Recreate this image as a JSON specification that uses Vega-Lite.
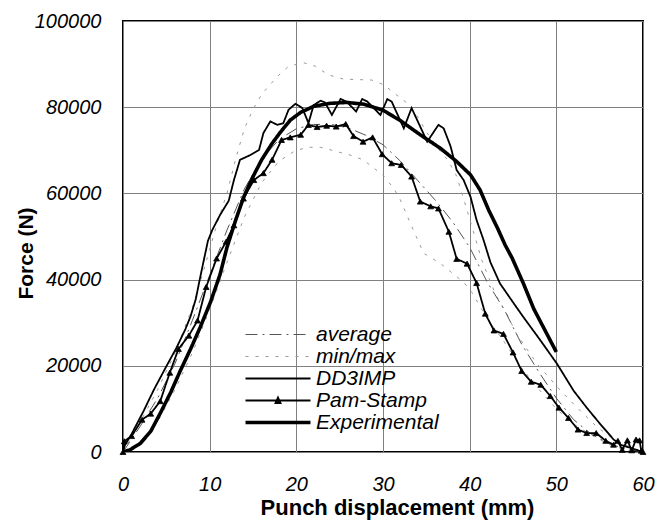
{
  "$schema": "https://vega.github.io/schema/vega-lite/v6.json",
  "autosize": "none",
  "width": 520,
  "height": 431,
  "padding": {"left": 123, "top": 21, "right": 22, "bottom": 68},
  "background": "white",
  "config": {
    "view": {"stroke": "black", "strokeWidth": 2},
    "font": "Liberation Sans"
  },
  "data": {"values": [
    {"x":0,"y":0,"series":"min/max","curve":"max"},{"x":2,"y":7000,"series":"min/max","curve":"max"},{"x":4,"y":14500,"series":"min/max","curve":"max"},{"x":6,"y":23000,"series":"min/max","curve":"max"},{"x":8,"y":33500,"series":"min/max","curve":"max"},{"x":9,"y":40000,"series":"min/max","curve":"max"},{"x":10,"y":47000,"series":"min/max","curve":"max"},{"x":11,"y":54000,"series":"min/max","curve":"max"},{"x":12,"y":60000,"series":"min/max","curve":"max"},{"x":13,"y":68000,"series":"min/max","curve":"max"},{"x":14,"y":75000,"series":"min/max","curve":"max"},{"x":15,"y":79500,"series":"min/max","curve":"max"},{"x":16,"y":83000,"series":"min/max","curve":"max"},{"x":17,"y":85300,"series":"min/max","curve":"max"},{"x":18,"y":87500,"series":"min/max","curve":"max"},{"x":19,"y":89300,"series":"min/max","curve":"max"},{"x":20.7,"y":90400,"series":"min/max","curve":"max"},{"x":22.2,"y":89500,"series":"min/max","curve":"max"},{"x":23.7,"y":87500,"series":"min/max","curve":"max"},{"x":25.5,"y":86500,"series":"min/max","curve":"max"},{"x":28.7,"y":86300,"series":"min/max","curve":"max"},{"x":30.1,"y":85200,"series":"min/max","curve":"max"},{"x":31.4,"y":83100,"series":"min/max","curve":"max"},{"x":32.8,"y":80900,"series":"min/max","curve":"max"},{"x":34,"y":77800,"series":"min/max","curve":"max"},{"x":35,"y":74300,"series":"min/max","curve":"max"},{"x":36.5,"y":70000,"series":"min/max","curve":"max"},{"x":37.5,"y":67700,"series":"min/max","curve":"max"},{"x":38.5,"y":64000,"series":"min/max","curve":"max"},{"x":39.7,"y":56100,"series":"min/max","curve":"max"},{"x":41.4,"y":44500,"series":"min/max","curve":"max"},{"x":43,"y":36500,"series":"min/max","curve":"max"},{"x":44.3,"y":32000,"series":"min/max","curve":"max"},{"x":45.4,"y":27400,"series":"min/max","curve":"max"},{"x":47.8,"y":20400,"series":"min/max","curve":"max"},{"x":50.5,"y":14200,"series":"min/max","curve":"max"},{"x":52.8,"y":9500,"series":"min/max","curve":"max"},{"x":54.8,"y":5600,"series":"min/max","curve":"max"},{"x":57,"y":2500,"series":"min/max","curve":"max"},{"x":59.3,"y":500,"series":"min/max","curve":"max"},{"x":60,"y":0,"series":"min/max","curve":"max"},
    {"x":0,"y":0,"series":"min/max","curve":"min"},{"x":2,"y":2000,"series":"min/max","curve":"min"},{"x":4,"y":7000,"series":"min/max","curve":"min"},{"x":6,"y":14500,"series":"min/max","curve":"min"},{"x":8,"y":23000,"series":"min/max","curve":"min"},{"x":10,"y":33000,"series":"min/max","curve":"min"},{"x":12,"y":44000,"series":"min/max","curve":"min"},{"x":14,"y":54500,"series":"min/max","curve":"min"},{"x":16,"y":62500,"series":"min/max","curve":"min"},{"x":18,"y":67500,"series":"min/max","curve":"min"},{"x":19.7,"y":69700,"series":"min/max","curve":"min"},{"x":21.2,"y":70700,"series":"min/max","curve":"min"},{"x":22.8,"y":70700,"series":"min/max","curve":"min"},{"x":24.7,"y":69700,"series":"min/max","curve":"min"},{"x":26.2,"y":68900,"series":"min/max","curve":"min"},{"x":27.7,"y":67800,"series":"min/max","curve":"min"},{"x":29,"y":65800,"series":"min/max","curve":"min"},{"x":30.1,"y":64000,"series":"min/max","curve":"min"},{"x":31.3,"y":61000,"series":"min/max","curve":"min"},{"x":32,"y":58500,"series":"min/max","curve":"min"},{"x":33.5,"y":51500,"series":"min/max","curve":"min"},{"x":34.7,"y":46100,"series":"min/max","curve":"min"},{"x":36.6,"y":43800,"series":"min/max","curve":"min"},{"x":38,"y":41500,"series":"min/max","curve":"min"},{"x":39.3,"y":39400,"series":"min/max","curve":"min"},{"x":40.3,"y":36900,"series":"min/max","curve":"min"},{"x":42,"y":31000,"series":"min/max","curve":"min"},{"x":44,"y":25500,"series":"min/max","curve":"min"},{"x":46,"y":19500,"series":"min/max","curve":"min"},{"x":48,"y":14500,"series":"min/max","curve":"min"},{"x":50,"y":10000,"series":"min/max","curve":"min"},{"x":52,"y":6500,"series":"min/max","curve":"min"},{"x":54,"y":4000,"series":"min/max","curve":"min"},{"x":56,"y":1800,"series":"min/max","curve":"min"},{"x":58,"y":500,"series":"min/max","curve":"min"},{"x":60,"y":0,"series":"min/max","curve":"min"},
    {"x":0,"y":0,"series":"average","curve":"average"},{"x":2,"y":6000,"series":"average","curve":"average"},{"x":4,"y":12500,"series":"average","curve":"average"},{"x":6,"y":20500,"series":"average","curve":"average"},{"x":8,"y":30500,"series":"average","curve":"average"},{"x":10,"y":41000,"series":"average","curve":"average"},{"x":12,"y":51500,"series":"average","curve":"average"},{"x":14,"y":61000,"series":"average","curve":"average"},{"x":16,"y":68000,"series":"average","curve":"average"},{"x":18,"y":72500,"series":"average","curve":"average"},{"x":20,"y":75000,"series":"average","curve":"average"},{"x":22,"y":76000,"series":"average","curve":"average"},{"x":24,"y":76000,"series":"average","curve":"average"},{"x":26,"y":75200,"series":"average","curve":"average"},{"x":28,"y":73500,"series":"average","curve":"average"},{"x":30,"y":71300,"series":"average","curve":"average"},{"x":32,"y":67500,"series":"average","curve":"average"},{"x":34,"y":63000,"series":"average","curve":"average"},{"x":36,"y":58500,"series":"average","curve":"average"},{"x":38,"y":53500,"series":"average","curve":"average"},{"x":40,"y":47500,"series":"average","curve":"average"},{"x":42,"y":39500,"series":"average","curve":"average"},{"x":44,"y":33000,"series":"average","curve":"average"},{"x":46,"y":25000,"series":"average","curve":"average"},{"x":48,"y":18500,"series":"average","curve":"average"},{"x":50,"y":12500,"series":"average","curve":"average"},{"x":52,"y":7500,"series":"average","curve":"average"},{"x":54,"y":4200,"series":"average","curve":"average"},{"x":56,"y":2000,"series":"average","curve":"average"},{"x":58,"y":700,"series":"average","curve":"average"},{"x":60,"y":0,"series":"average","curve":"average"},
    {"x":0,"y":0,"series":"DD3IMP","curve":"DD3IMP"},{"x":0.2,"y":1500,"series":"DD3IMP","curve":"DD3IMP"},{"x":1,"y":4200,"series":"DD3IMP","curve":"DD3IMP"},{"x":2.4,"y":9600,"series":"DD3IMP","curve":"DD3IMP"},{"x":3.5,"y":14200,"series":"DD3IMP","curve":"DD3IMP"},{"x":4.9,"y":19500,"series":"DD3IMP","curve":"DD3IMP"},{"x":6.2,"y":24300,"series":"DD3IMP","curve":"DD3IMP"},{"x":7.2,"y":28500,"series":"DD3IMP","curve":"DD3IMP"},{"x":7.8,"y":31500,"series":"DD3IMP","curve":"DD3IMP"},{"x":8.4,"y":35500,"series":"DD3IMP","curve":"DD3IMP"},{"x":8.85,"y":40000,"series":"DD3IMP","curve":"DD3IMP"},{"x":9.8,"y":49000,"series":"DD3IMP","curve":"DD3IMP"},{"x":10.3,"y":51500,"series":"DD3IMP","curve":"DD3IMP"},{"x":11.2,"y":55000,"series":"DD3IMP","curve":"DD3IMP"},{"x":12.2,"y":58300,"series":"DD3IMP","curve":"DD3IMP"},{"x":12.8,"y":63100,"series":"DD3IMP","curve":"DD3IMP"},{"x":13.5,"y":67800,"series":"DD3IMP","curve":"DD3IMP"},{"x":14.7,"y":68900,"series":"DD3IMP","curve":"DD3IMP"},{"x":15.7,"y":70100,"series":"DD3IMP","curve":"DD3IMP"},{"x":16.2,"y":74000,"series":"DD3IMP","curve":"DD3IMP"},{"x":17,"y":76700,"series":"DD3IMP","curve":"DD3IMP"},{"x":17.8,"y":75900,"series":"DD3IMP","curve":"DD3IMP"},{"x":18.5,"y":76300,"series":"DD3IMP","curve":"DD3IMP"},{"x":19.1,"y":79400,"series":"DD3IMP","curve":"DD3IMP"},{"x":19.9,"y":80800,"series":"DD3IMP","curve":"DD3IMP"},{"x":20.7,"y":79800,"series":"DD3IMP","curve":"DD3IMP"},{"x":21.4,"y":76300,"series":"DD3IMP","curve":"DD3IMP"},{"x":22,"y":80500,"series":"DD3IMP","curve":"DD3IMP"},{"x":22.8,"y":81500,"series":"DD3IMP","curve":"DD3IMP"},{"x":23.3,"y":81100,"series":"DD3IMP","curve":"DD3IMP"},{"x":24.1,"y":78200,"series":"DD3IMP","curve":"DD3IMP"},{"x":25.1,"y":81900,"series":"DD3IMP","curve":"DD3IMP"},{"x":25.8,"y":81300,"series":"DD3IMP","curve":"DD3IMP"},{"x":26.9,"y":79000,"series":"DD3IMP","curve":"DD3IMP"},{"x":27.6,"y":81900,"series":"DD3IMP","curve":"DD3IMP"},{"x":28.2,"y":81300,"series":"DD3IMP","curve":"DD3IMP"},{"x":29.7,"y":78200,"series":"DD3IMP","curve":"DD3IMP"},{"x":30.5,"y":81900,"series":"DD3IMP","curve":"DD3IMP"},{"x":31,"y":81300,"series":"DD3IMP","curve":"DD3IMP"},{"x":32.4,"y":75100,"series":"DD3IMP","curve":"DD3IMP"},{"x":33.3,"y":79800,"series":"DD3IMP","curve":"DD3IMP"},{"x":35.1,"y":72000,"series":"DD3IMP","curve":"DD3IMP"},{"x":36.4,"y":75900,"series":"DD3IMP","curve":"DD3IMP"},{"x":37,"y":75100,"series":"DD3IMP","curve":"DD3IMP"},{"x":37.8,"y":70900,"series":"DD3IMP","curve":"DD3IMP"},{"x":38.5,"y":65400,"series":"DD3IMP","curve":"DD3IMP"},{"x":39.3,"y":63100,"series":"DD3IMP","curve":"DD3IMP"},{"x":40.1,"y":59200,"series":"DD3IMP","curve":"DD3IMP"},{"x":40.8,"y":53800,"series":"DD3IMP","curve":"DD3IMP"},{"x":41.6,"y":49200,"series":"DD3IMP","curve":"DD3IMP"},{"x":42.4,"y":44000,"series":"DD3IMP","curve":"DD3IMP"},{"x":43.5,"y":39100,"series":"DD3IMP","curve":"DD3IMP"},{"x":44.7,"y":35600,"series":"DD3IMP","curve":"DD3IMP"},{"x":46.2,"y":31300,"series":"DD3IMP","curve":"DD3IMP"},{"x":48.2,"y":25800,"series":"DD3IMP","curve":"DD3IMP"},{"x":50.1,"y":20400,"series":"DD3IMP","curve":"DD3IMP"},{"x":52,"y":14200,"series":"DD3IMP","curve":"DD3IMP"},{"x":53.5,"y":10300,"series":"DD3IMP","curve":"DD3IMP"},{"x":55.1,"y":6400,"series":"DD3IMP","curve":"DD3IMP"},{"x":55.8,"y":4800,"series":"DD3IMP","curve":"DD3IMP"},{"x":56.6,"y":2900,"series":"DD3IMP","curve":"DD3IMP"},{"x":57.4,"y":1700,"series":"DD3IMP","curve":"DD3IMP"},{"x":59.7,"y":200,"series":"DD3IMP","curve":"DD3IMP"},
    {"x":0,"y":0,"series":"Pam-Stamp","curve":"Pam-Stamp"},{"x":0.15,"y":2500,"series":"Pam-Stamp","curve":"Pam-Stamp"},{"x":1,"y":3700,"series":"Pam-Stamp","curve":"Pam-Stamp"},{"x":2.2,"y":7500,"series":"Pam-Stamp","curve":"Pam-Stamp"},{"x":3.2,"y":8900,"series":"Pam-Stamp","curve":"Pam-Stamp"},{"x":4.3,"y":11800,"series":"Pam-Stamp","curve":"Pam-Stamp"},{"x":5.4,"y":18400,"series":"Pam-Stamp","curve":"Pam-Stamp"},{"x":6.4,"y":23900,"series":"Pam-Stamp","curve":"Pam-Stamp"},{"x":7.6,"y":27000,"series":"Pam-Stamp","curve":"Pam-Stamp"},{"x":8.6,"y":30500,"series":"Pam-Stamp","curve":"Pam-Stamp"},{"x":9.6,"y":38300,"series":"Pam-Stamp","curve":"Pam-Stamp"},{"x":10.8,"y":44900,"series":"Pam-Stamp","curve":"Pam-Stamp"},{"x":11.9,"y":48800,"series":"Pam-Stamp","curve":"Pam-Stamp"},{"x":12.8,"y":52600,"series":"Pam-Stamp","curve":"Pam-Stamp"},{"x":13.9,"y":58800,"series":"Pam-Stamp","curve":"Pam-Stamp"},{"x":15.1,"y":63100,"series":"Pam-Stamp","curve":"Pam-Stamp"},{"x":16.2,"y":64700,"series":"Pam-Stamp","curve":"Pam-Stamp"},{"x":17.2,"y":67800,"series":"Pam-Stamp","curve":"Pam-Stamp"},{"x":18.3,"y":72400,"series":"Pam-Stamp","curve":"Pam-Stamp"},{"x":19.3,"y":73000,"series":"Pam-Stamp","curve":"Pam-Stamp"},{"x":20.5,"y":73600,"series":"Pam-Stamp","curve":"Pam-Stamp"},{"x":21.4,"y":75900,"series":"Pam-Stamp","curve":"Pam-Stamp"},{"x":22.4,"y":75400,"series":"Pam-Stamp","curve":"Pam-Stamp"},{"x":23.5,"y":75700,"series":"Pam-Stamp","curve":"Pam-Stamp"},{"x":24.6,"y":75500,"series":"Pam-Stamp","curve":"Pam-Stamp"},{"x":25.7,"y":76100,"series":"Pam-Stamp","curve":"Pam-Stamp"},{"x":26.6,"y":73300,"series":"Pam-Stamp","curve":"Pam-Stamp"},{"x":27.7,"y":72000,"series":"Pam-Stamp","curve":"Pam-Stamp"},{"x":28.8,"y":73000,"series":"Pam-Stamp","curve":"Pam-Stamp"},{"x":29.9,"y":69100,"series":"Pam-Stamp","curve":"Pam-Stamp"},{"x":31,"y":67000,"series":"Pam-Stamp","curve":"Pam-Stamp"},{"x":32.1,"y":66600,"series":"Pam-Stamp","curve":"Pam-Stamp"},{"x":33.3,"y":63900,"series":"Pam-Stamp","curve":"Pam-Stamp"},{"x":34.3,"y":58100,"series":"Pam-Stamp","curve":"Pam-Stamp"},{"x":35.5,"y":57000,"series":"Pam-Stamp","curve":"Pam-Stamp"},{"x":36.4,"y":56500,"series":"Pam-Stamp","curve":"Pam-Stamp"},{"x":37.6,"y":51100,"series":"Pam-Stamp","curve":"Pam-Stamp"},{"x":38.5,"y":44800,"series":"Pam-Stamp","curve":"Pam-Stamp"},{"x":39.7,"y":43700,"series":"Pam-Stamp","curve":"Pam-Stamp"},{"x":40.8,"y":39200,"series":"Pam-Stamp","curve":"Pam-Stamp"},{"x":41.8,"y":32100,"series":"Pam-Stamp","curve":"Pam-Stamp"},{"x":42.8,"y":28200,"series":"Pam-Stamp","curve":"Pam-Stamp"},{"x":43.9,"y":27400,"series":"Pam-Stamp","curve":"Pam-Stamp"},{"x":45,"y":23100,"series":"Pam-Stamp","curve":"Pam-Stamp"},{"x":46,"y":18800,"series":"Pam-Stamp","curve":"Pam-Stamp"},{"x":47.1,"y":16300,"series":"Pam-Stamp","curve":"Pam-Stamp"},{"x":48.2,"y":15600,"series":"Pam-Stamp","curve":"Pam-Stamp"},{"x":49.3,"y":13000,"series":"Pam-Stamp","curve":"Pam-Stamp"},{"x":50.3,"y":10300,"series":"Pam-Stamp","curve":"Pam-Stamp"},{"x":51.4,"y":7900,"series":"Pam-Stamp","curve":"Pam-Stamp"},{"x":52.5,"y":5200,"series":"Pam-Stamp","curve":"Pam-Stamp"},{"x":53.5,"y":4400,"series":"Pam-Stamp","curve":"Pam-Stamp"},{"x":54.6,"y":4400,"series":"Pam-Stamp","curve":"Pam-Stamp"},{"x":55.7,"y":2600,"series":"Pam-Stamp","curve":"Pam-Stamp"},{"x":56.6,"y":1700,"series":"Pam-Stamp","curve":"Pam-Stamp"},{"x":57.1,"y":2600,"series":"Pam-Stamp","curve":"Pam-Stamp"},{"x":57.6,"y":500,"series":"Pam-Stamp","curve":"Pam-Stamp"},{"x":58.2,"y":2700,"series":"Pam-Stamp","curve":"Pam-Stamp"},{"x":58.7,"y":400,"series":"Pam-Stamp","curve":"Pam-Stamp"},{"x":59.2,"y":2900,"series":"Pam-Stamp","curve":"Pam-Stamp"},{"x":59.6,"y":2700,"series":"Pam-Stamp","curve":"Pam-Stamp"},{"x":59.8,"y":300,"series":"Pam-Stamp","curve":"Pam-Stamp"},{"x":60,"y":0,"series":"Pam-Stamp","curve":"Pam-Stamp"},
    {"x":0,"y":0,"series":"Experimental","curve":"Experimental"},{"x":0.8,"y":500,"series":"Experimental","curve":"Experimental"},{"x":2,"y":2000,"series":"Experimental","curve":"Experimental"},{"x":3.2,"y":4800,"series":"Experimental","curve":"Experimental"},{"x":4.3,"y":9000,"series":"Experimental","curve":"Experimental"},{"x":5.5,"y":13800,"series":"Experimental","curve":"Experimental"},{"x":6.6,"y":18800,"series":"Experimental","curve":"Experimental"},{"x":7.8,"y":23900,"series":"Experimental","curve":"Experimental"},{"x":8.9,"y":28900,"series":"Experimental","curve":"Experimental"},{"x":10.1,"y":34800,"series":"Experimental","curve":"Experimental"},{"x":11.2,"y":41200,"series":"Experimental","curve":"Experimental"},{"x":12,"y":47500,"series":"Experimental","curve":"Experimental"},{"x":13,"y":53800,"series":"Experimental","curve":"Experimental"},{"x":13.9,"y":59000,"series":"Experimental","curve":"Experimental"},{"x":14.9,"y":63500,"series":"Experimental","curve":"Experimental"},{"x":16,"y":67800,"series":"Experimental","curve":"Experimental"},{"x":17.2,"y":71600,"series":"Experimental","curve":"Experimental"},{"x":18.2,"y":74300,"series":"Experimental","curve":"Experimental"},{"x":19.3,"y":77000,"series":"Experimental","curve":"Experimental"},{"x":20.5,"y":78800,"series":"Experimental","curve":"Experimental"},{"x":22,"y":80200,"series":"Experimental","curve":"Experimental"},{"x":23.9,"y":80900,"series":"Experimental","curve":"Experimental"},{"x":25.8,"y":81100,"series":"Experimental","curve":"Experimental"},{"x":27.8,"y":80700,"series":"Experimental","curve":"Experimental"},{"x":30,"y":79300,"series":"Experimental","curve":"Experimental"},{"x":32,"y":76900,"series":"Experimental","curve":"Experimental"},{"x":34.3,"y":73600,"series":"Experimental","curve":"Experimental"},{"x":36.6,"y":70500,"series":"Experimental","curve":"Experimental"},{"x":38.5,"y":67400,"series":"Experimental","curve":"Experimental"},{"x":40.1,"y":64300,"series":"Experimental","curve":"Experimental"},{"x":41.2,"y":60800,"series":"Experimental","curve":"Experimental"},{"x":42.2,"y":56100,"series":"Experimental","curve":"Experimental"},{"x":43.2,"y":52000,"series":"Experimental","curve":"Experimental"},{"x":44.1,"y":48000,"series":"Experimental","curve":"Experimental"},{"x":44.9,"y":45000,"series":"Experimental","curve":"Experimental"},{"x":46.2,"y":39100,"series":"Experimental","curve":"Experimental"},{"x":47.4,"y":33200,"series":"Experimental","curve":"Experimental"},{"x":48.7,"y":28200,"series":"Experimental","curve":"Experimental"},{"x":50,"y":23200,"series":"Experimental","curve":"Experimental"}
  ]},
  "encoding": {
    "x": {
      "field": "x", "type": "quantitative",
      "scale": {"domain": [0, 60], "nice": false},
      "axis": {
        "title": "Punch displacement (mm)",
        "values": [0, 10, 20, 30, 40, 50, 60],
        "grid": true, "gridColor": "#808080", "gridWidth": 1, "gridOpacity": 1,
        "domain": false, "ticks": false, "labelFlush": false,
        "labelFont": "Liberation Sans", "labelFontStyle": "italic", "labelFontSize": 20, "labelColor": "black",
        "labelPadding": 22,
        "titleFont": "Liberation Sans", "titleFontWeight": "bold", "titleFontSize": 22, "titleColor": "black",
        "titleX": 274, "titleY": 62, "titleBaseline": "alphabetic", "titleAlign": "center"
      }
    },
    "y": {
      "field": "y", "type": "quantitative",
      "scale": {"domain": [0, 100000], "nice": false},
      "axis": {
        "title": "Force (N)",
        "values": [0, 20000, 40000, 60000, 80000, 100000],
        "format": "d",
        "grid": true, "gridColor": "#808080", "gridWidth": 1, "gridOpacity": 1,
        "domain": false, "ticks": false, "labelFlush": false,
        "labelFont": "Liberation Sans", "labelFontStyle": "italic", "labelFontSize": 20, "labelColor": "black",
        "labelPadding": 22,
        "titleFont": "Liberation Sans", "titleFontWeight": "bold", "titleFontSize": 21, "titleColor": "black",
        "titleX": -91, "titleY": 232, "titleAngle": -90, "titleBaseline": "alphabetic", "titleAlign": "center"
      }
    }
  },
  "layer": [
    {
      "mark": {"type": "line", "clip": true},
      "encoding": {
        "detail": {"field": "curve"},
        "color": {
          "field": "series", "type": "nominal",
          "scale": {"domain": ["average", "min/max", "DD3IMP", "Pam-Stamp", "Experimental"], "range": ["#555555", "#999999", "black", "black", "black"]},
          "legend": {
            "title": null,
            "orient": "none", "legendX": 117, "legendY": 303,
            "symbolSize": 100,
            "labelFont": "Liberation Sans", "labelFontStyle": "italic", "labelFontSize": 21, "labelColor": "black",
            "labelOffset": 55, "rowPadding": 0, "padding": 0,
            "encode": {"symbols": {"update": {
              "shape": {"signal": "datum.value === 'Pam-Stamp' ? 'M-1,0H12M5,0.5L5.5,-0.6L6,0.5Z' : 'M-1,0H12'"},
              "fill": {"signal": "datum.value === 'Pam-Stamp' ? 'black' : 'transparent'"}
            }}}
          }
        },
        "strokeDash": {
          "field": "series", "type": "nominal",
          "scale": {"type": "ordinal", "domain": ["average", "min/max", "DD3IMP", "Pam-Stamp", "Experimental"], "range": [[12, 5, 2, 5], [3, 7], [1, 0], [1, 0], [1, 0]]},
          "legend": {"title": null}
        },
        "strokeWidth": {
          "field": "series", "type": "nominal",
          "scale": {"type": "ordinal", "domain": ["average", "min/max", "DD3IMP", "Pam-Stamp", "Experimental"], "range": [1, 1, 1.8, 1.8, 3.6]},
          "legend": {"title": null}
        }
      }
    },
    {
      "transform": [{"filter": "datum.series === 'Pam-Stamp'"}],
      "mark": {"type": "point", "shape": "triangle-up", "size": 34, "filled": true, "color": "black", "stroke": "black", "strokeWidth": 0.8, "opacity": 1}
    }
  ]
}
